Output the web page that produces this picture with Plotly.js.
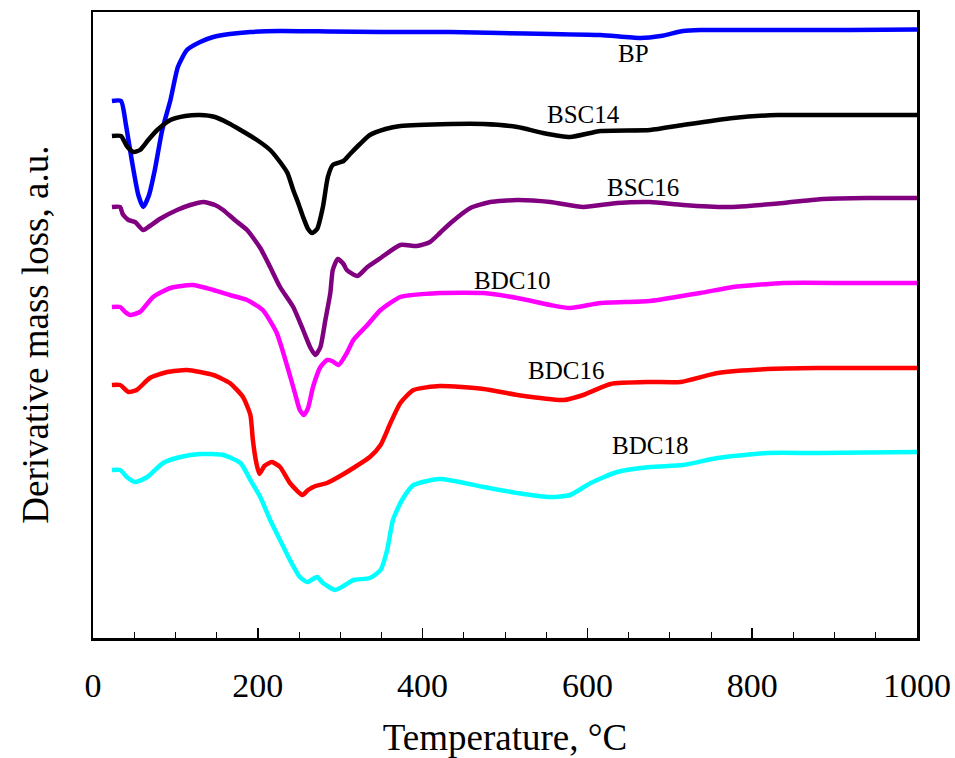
<!DOCTYPE html>
<html>
<head>
<meta charset="utf-8">
<script src="https://cdn.plot.ly/plotly-3.0.1.min.js"></script>
<style>
  html, body { margin: 0; padding: 0; background: #fff; }
  #chart { width: 955px; height: 758px; }
</style>
</head>
<body>
<div id="chart"></div>
<script>
// DTG curves (stacked with vertical offsets), temperature in °C, signal in a.u.
const bpT = [23,34,40,47,55,61,68,75,84,94,103,114,130,146,166,191,227,288,349,434,494,555,616,664,689,716,737,798,919,1000];
const bpY = [537,537,513,478,443,431,443,468,508,538,571,588,596,601,604,606,607,606.5,606,606,605,604,603,600,602,607,608,608,608,608.5];

const bsc14T = [23,34,41,49,57,67,78,94,112,130,148,164,179,199,215,227,236,243,249,255,261,266,272,279,285,291,304,312,324,336,355,373,434,474,515,546,579,616,676,716,777,831,879,1000];
const bsc14Y = [502,502,492,486,488,498,508,518,522,523,521,515,508,498,488,476,465,448,435,421,409,405,409,431,461,473,477,484,494,503,509,512,514,514,511,505,501,507,508,513,520,523,523,523];

const bsc16T = [23,33,36,43,51,61,69,81,102,118,134,148,158,172,187,203,215,227,243,255,264,270,276,282,288,291,297,304,308,321,333,349,373,393,409,421,434,458,482,515,555,595,636,676,716,770,838,886,940,1000];
const bsc16Y = [431,431,424,418,416,408,412,419,428,433,436,433,428,418,408,390,371,351,331,308,290,283,291,318,345,368,379,374,368,362,371,380,393,392,396,405,415,430,436,438,436,431,435,436,433,431,435,439,440,440];

const bdc10T = [23,33,39,45,57,73,94,121,146,166,187,206,223,236,245,251,256,261,267,276,284,290,298,308,316,333,349,373,421,474,515,555,579,616,676,737,777,838,919,1000];
const bdc10Y = [331,331,326,323,326,341,350,353,348,343,338,328,305,271,245,228,223,230,251,271,278,277,273,285,298,313,328,341,345,345,340,333,330,335,337,345,351,355,355,355];

const bdc16T = [23,33,43,53,69,90,114,146,166,182,191,194,198,202,208,217,227,239,254,261,270,284,300,316,336,349,361,373,389,421,474,515,571,595,628,676,713,758,818,879,1000];
const bdc16Y = [253,253,246,248,260,266,268,263,255,241,223,198,176,164,172,176,171,155,143,148,152,155,162,170,181,193,215,235,248,252,249,243,238,243,254,256,256,265,269,270,270];

const bdc18T = [23,33,41,51,66,85,106,130,158,179,191,203,215,227,239,251,260,272,279,294,306,316,336,349,357,364,375,389,421,474,515,555,579,604,636,676,716,758,818,879,1000];
const bdc18Y = [168,168,161,156,161,175,181,184,183,175,158,141,118,98,78,61,56,61,55,48,53,58,60,68,88,118,138,153,159,151,145,141,143,155,166,171,173,180,185,185,186];

const seriesNames = ['BP','BSC14','BSC16','BDC10','BDC16','BDC18'];
const seriesT = [bpT, bsc14T, bsc16T, bdc10T, bdc16T, bdc18T];
const seriesY = [bpY, bsc14Y, bsc16Y, bdc10Y, bdc16Y, bdc18Y];
const seriesColors = ['#0000ff','#000000','#800080','#ff00ff','#ff0000','#00ffff'];

// Curve labels: [temperature, signal] where each name is written
const labelT = [656, 595, 668, 509, 574, 676];
const labelY = [585, 524, 451, 358, 268, 193];

const serif = 'Liberation Serif, Times New Roman, serif';

const traces = seriesNames.map((name, i) => ({
  x: seriesT[i],
  y: seriesY[i],
  type: 'scatter',
  mode: 'lines',
  name: name,
  line: { color: seriesColors[i], width: 4.5, shape: 'spline', smoothing: 0.55 },
  showlegend: false,
  hoverinfo: 'skip'
}));

const annotations = seriesNames.map((name, i) => ({
  x: labelT[i], y: labelY[i], xref: 'x', yref: 'y',
  text: name, showarrow: false,
  font: { family: serif, size: 25, color: '#000' }
}));

// Vertical axis title, set slightly below the plot's mid-height
annotations.push({
  xref: 'paper', yref: 'paper', x: -0.07, y: 0.485,
  xanchor: 'center', yanchor: 'middle',
  text: 'Derivative mass loss, a.u.', textangle: -90, showarrow: false,
  font: { family: serif, size: 37, color: '#000' }
});

const layout = {
  width: 955,
  height: 758,
  margin: { l: 93, r: 38, t: 12, b: 120 },
  paper_bgcolor: '#fff',
  plot_bgcolor: '#fff',
  font: { family: serif, color: '#000' },
  xaxis: {
    range: [0, 1000],
    tickvals: [0, 200, 400, 600, 800, 1000],
    ticks: 'inside',
    ticklen: 10,
    tickwidth: 1.5,
    tickcolor: '#000',
    minor: { ticks: 'inside', dtick: 50, ticklen: 6, tickwidth: 1, tickcolor: '#000', showgrid: false },
    showgrid: false,
    zeroline: false,
    showline: true,
    linewidth: 2.5,
    linecolor: '#000',
    mirror: true,
    tickfont: { size: 34 },
    ticklabelstandoff: 16,
    title: { text: 'Temperature, °C', font: { size: 37 }, standoff: 22 }
  },
  yaxis: {
    range: [0, 626],
    showticklabels: false,
    ticks: '',
    showgrid: false,
    zeroline: false,
    showline: true,
    linewidth: 2.5,
    linecolor: '#000',
    mirror: true
  },
  annotations: annotations
};

Plotly.newPlot('chart', traces, layout, { displayModeBar: false, staticPlot: true });
</script>
</body>
</html>
